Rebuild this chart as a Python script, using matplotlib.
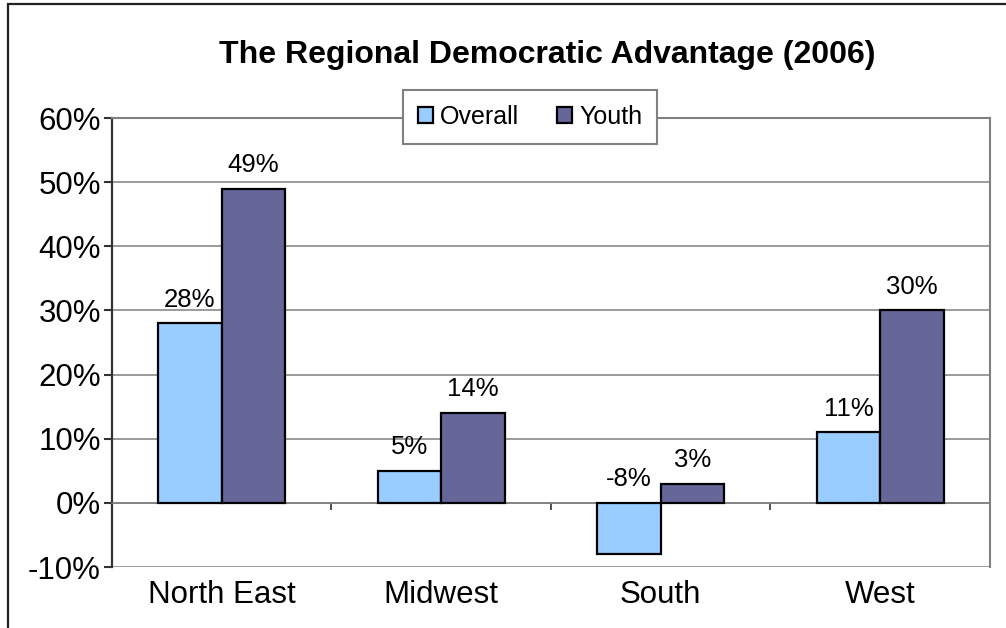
import matplotlib

matplotlib.use("Agg")
import matplotlib.pyplot as plt
import numpy as np
from matplotlib.patches import Rectangle
from matplotlib.ticker import FixedLocator, FuncFormatter

plt.rcParams["font.family"] = ["Liberation Sans", "DejaVu Sans"]

regioes = ["North East", "Midwest", "South", "West"]
geral = [28, 5, -8, 11]
jovens = [49, 14, 3, 30]
series = ["Overall", "Youth"]
cores = ["#99CCFF", "#666699"]
titulo = "The Regional Democratic Advantage (2006)"

fig = plt.figure(figsize=(10.06, 6.28), dpi=100)
ax = fig.add_axes([0.1113, 0.0971, 0.8728, 0.7150])

x = np.arange(len(regioes))
w = 0.29
for i, (vals, nome, cor) in enumerate(zip([geral, jovens], series, cores)):
    pos = x + (i - 0.5) * w
    ax.bar(pos, vals, width=w, color=cor, edgecolor="black", linewidth=1.6,
           label=nome, zorder=3)
    for px, v in zip(pos, vals):
        ax.annotate(f"{v}%", (px, max(v, 0)), xytext=(0, 12), textcoords="offset points",
                    ha="center", va="baseline", fontsize=18.5)

ax.set_xlim(-0.5, len(regioes) - 0.5)
ax.set_ylim(-10, 60)
ax.set_yticks(np.arange(-10, 61, 10))
ax.yaxis.set_major_formatter(FuncFormatter(lambda v, _: f"{v:.0f}%"))
ax.tick_params(axis="y", labelsize=22.5, length=6, width=1.5, color="#333333", pad=2)
ax.grid(axis="y", color="#808080", linewidth=1.1, zorder=0)

# eixo de categorias cruzando no zero, com marcas entre categorias
ax.spines["bottom"].set_position(("data", 0))
ax.spines["bottom"].set_color("#808080")
ax.spines["bottom"].set_linewidth(1.1)
ax.set_xticks([])
ax.xaxis.set_minor_locator(FixedLocator(np.arange(-0.5, len(regioes), 1.0)))
ax.tick_params(axis="x", which="minor", direction="out", length=5, width=1.2, color="#333333")
for lado in ["top", "right"]:
    ax.spines[lado].set_color("#808080")
    ax.spines[lado].set_linewidth(1.5)
ax.spines["left"].set_color("#333333")
ax.spines["left"].set_linewidth(1.6)

sec = ax.secondary_xaxis(0.0)
sec.set_xticks(x, regioes)
sec.tick_params(length=0, labelsize=22.5, pad=9)
sec.spines["bottom"].set_visible(False)

leg = ax.legend(loc="center", bbox_to_anchor=(0.476, 1.002), ncol=2, fontsize=18,
                frameon=True, fancybox=False, edgecolor="#808080", framealpha=1,
                handlelength=0.6, handleheight=0.6, handletextpad=0.3,
                columnspacing=1.5, borderpad=0.6)
leg.get_frame().set_linewidth(1.5)
leg.set_zorder(5)

fig.text(0.544, 1 - 63 / 628, titulo, ha="center", va="baseline",
         fontsize=23, fontweight="bold")

# moldura externa do gráfico
fig.patches.append(Rectangle((8 / 1006, -0.05), 1.2, 1.05 - 4 / 628, transform=fig.transFigure,
                             fill=False, edgecolor="#222222", linewidth=1.6))

fig.savefig("out.png", dpi=100)
